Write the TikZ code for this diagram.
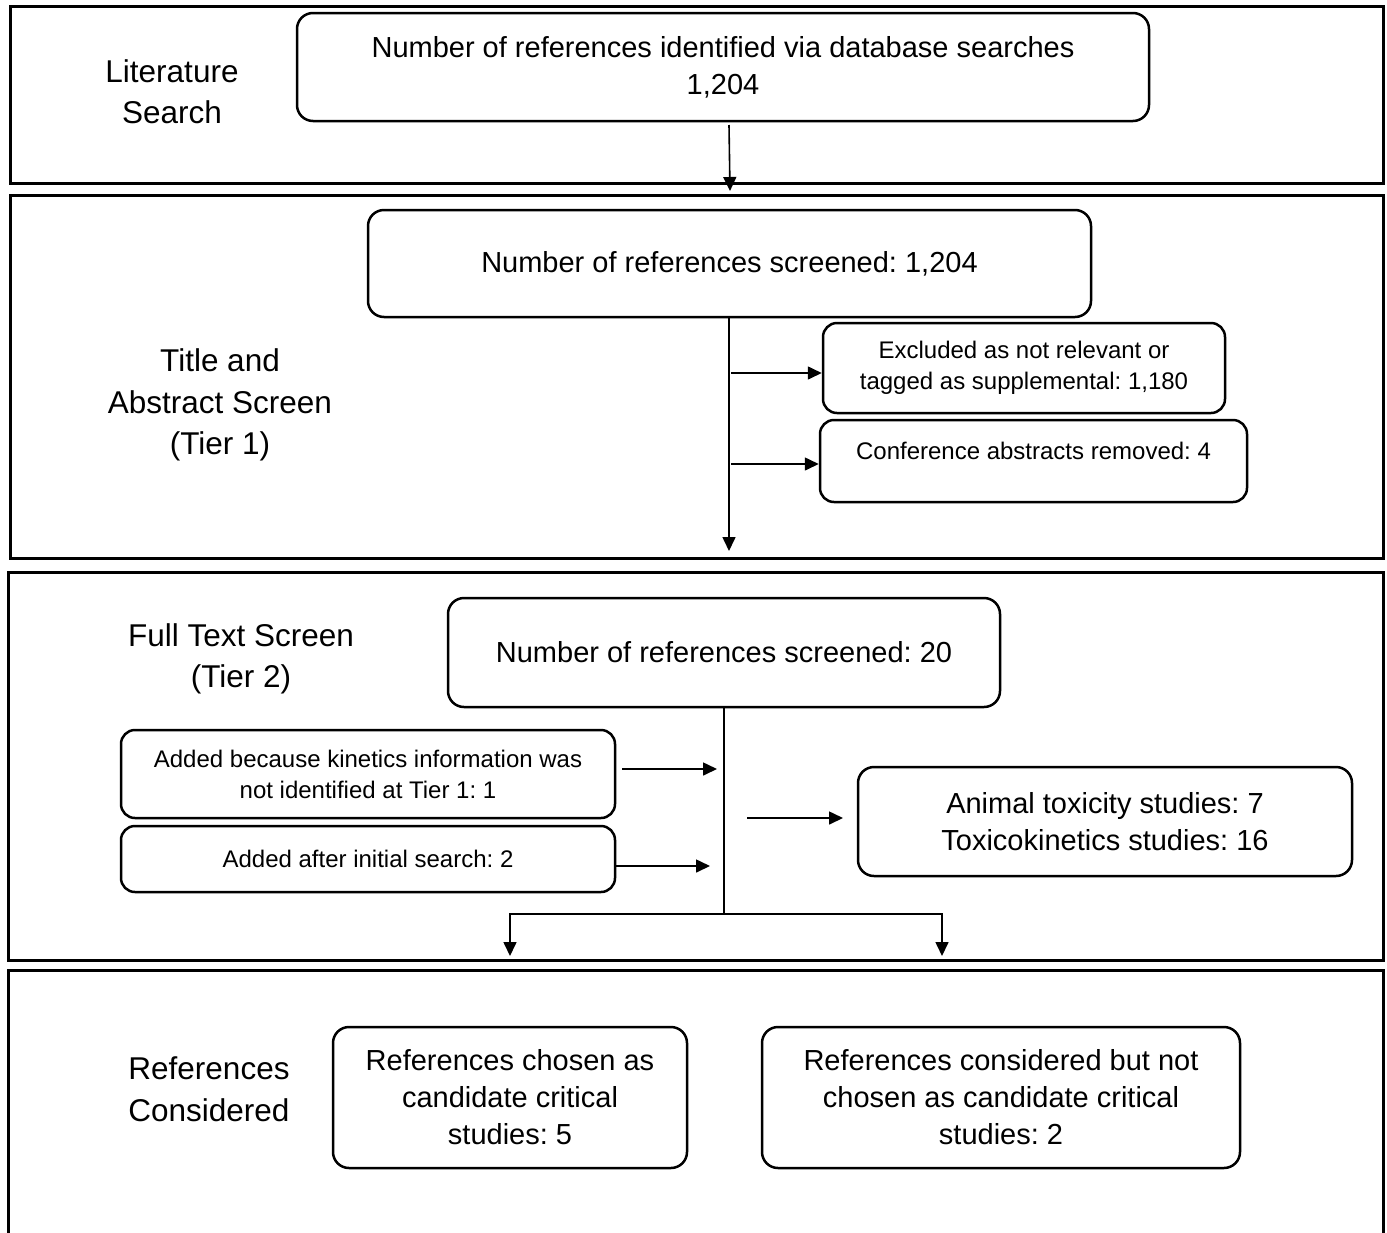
\documentclass[tikz,border=0pt]{standalone}
\usepackage{fontspec}
\setmainfont{Liberation Sans}
\usetikzlibrary{arrows.meta}
\frenchspacing
\begin{document}
\begin{tikzpicture}[x=1pt,y=-1pt,
  panel/.style={draw=black,line width=3pt},
  box/.style={draw=black,line width=2.5pt,rounded corners=16pt,inner sep=0pt,align=center,
    font=\fontsize{29}{37}\selectfont},
  sbox/.style={draw=black,line width=2.5pt,rounded corners=14pt,inner sep=0pt,align=center,
    font=\fontsize{24}{31}\selectfont},
  lbl/.style={inner sep=0pt,align=center,font=\fontsize{31.5}{41.5}\selectfont},
  conn/.style={draw=black,line width=1.6pt},
  arr/.style={conn,-{Triangle[length=14pt,width=13pt]}}]
\useasboundingbox (0,0) rectangle (1387,1232);
\fill[white] (0,0) rectangle (1387,1232);
% panels
\draw[panel] (10,6) rectangle (1383,183);
\draw[panel] (10,195) rectangle (1383,558);
\draw[panel] (8,572) rectangle (1383,960);
\draw[panel] (8,1240) -- (8,970) -- (1383,970) -- (1383,1240);
% labels
\node[lbl] (L1) at (172,91.5) {Literature\\Search};
\node[lbl] (L2) at (220,405) {Title and\\Abstract Screen\\(Tier 1)};
\node[lbl] (L3) at (241,659) {Full Text Screen\\(Tier 2)};
\node[lbl] (L4) at (209,1089) {References\\Considered};
% boxes
\node[box,minimum width=852pt,minimum height=108pt] (B1) at (723,67)
  {\rule{0pt}{0pt}\raisebox{-3pt}{Number of references identified via database searches}\\\raisebox{-3pt}{1,204}};
\node[box,minimum width=723pt,minimum height=107pt] (B2) at (729.5,263.5)
  {\raisebox{-2pt}{Number of references screened: 1,204}};
\node[sbox,minimum width=402pt,minimum height=90pt] (Ex) at (1024,368)
  {Excluded as not relevant or\\tagged as supplemental: 1,180};
\node[sbox,minimum width=427pt,text height=39.6pt,text depth=42.4pt] (Cf) at (1033.5,461)
  {Conference abstracts removed: 4};
\node[box,minimum width=552pt,minimum height=109pt] (B3) at (724,652.5)
  {Number of references screened: 20};
\node[sbox,minimum width=494pt,minimum height=88pt] (A1) at (368,774)
  {Added because kinetics information was\\not identified at Tier 1: 1};
\node[sbox,minimum width=494pt,minimum height=66pt] (A2) at (368,859)
  {Added after initial search: 2};
\node[box,minimum width=494pt,minimum height=109pt] (AT) at (1105,821.5)
  {Animal toxicity studies: 7\\Toxicokinetics studies: 16};
\node[box,minimum width=354pt,minimum height=141pt] (C1) at (510,1097.5)
  {References chosen as\\candidate critical\\studies: 5};
\node[box,minimum width=478pt,minimum height=141pt] (C2) at (1001,1097.5)
  {References considered but not\\chosen as candidate critical\\studies: 2};
% connectors
\coordinate (a1s) at (729,125);
\coordinate (a1e) at (730,191);
\draw[arr] (a1s) -- (a1e);
\coordinate (v1) at (729,551);
\draw[arr] (B2.south -| v1) -- (v1);
\coordinate (j1) at (731,373);
\draw[arr] (j1) -- (j1 -| Ex.west);
\coordinate (j2) at (731,464);
\draw[arr] (j2) -- (j2 -| Cf.west);
\coordinate (s) at (724,914);
\coordinate (sl) at (510,914);
\coordinate (sr) at (942,914);
\coordinate (el) at (510,956);
\coordinate (er) at (942,956);
\draw[conn] (B3.south -| s) -- (s);
\draw[arr] (s) -- (sl) -- (el);
\draw[arr] (s) -- (sr) -- (er);
\coordinate (p1s) at (622,769);
\coordinate (p1e) at (717,769);
\draw[arr] (p1s) -- (p1e);
\coordinate (p2s) at (615,866);
\coordinate (p2e) at (710,866);
\draw[arr] (p2s) -- (p2e);
\coordinate (q1) at (747,818);
\coordinate (q2) at (843,818);
\draw[arr] (q1) -- (q2);
\end{tikzpicture}
\end{document}
